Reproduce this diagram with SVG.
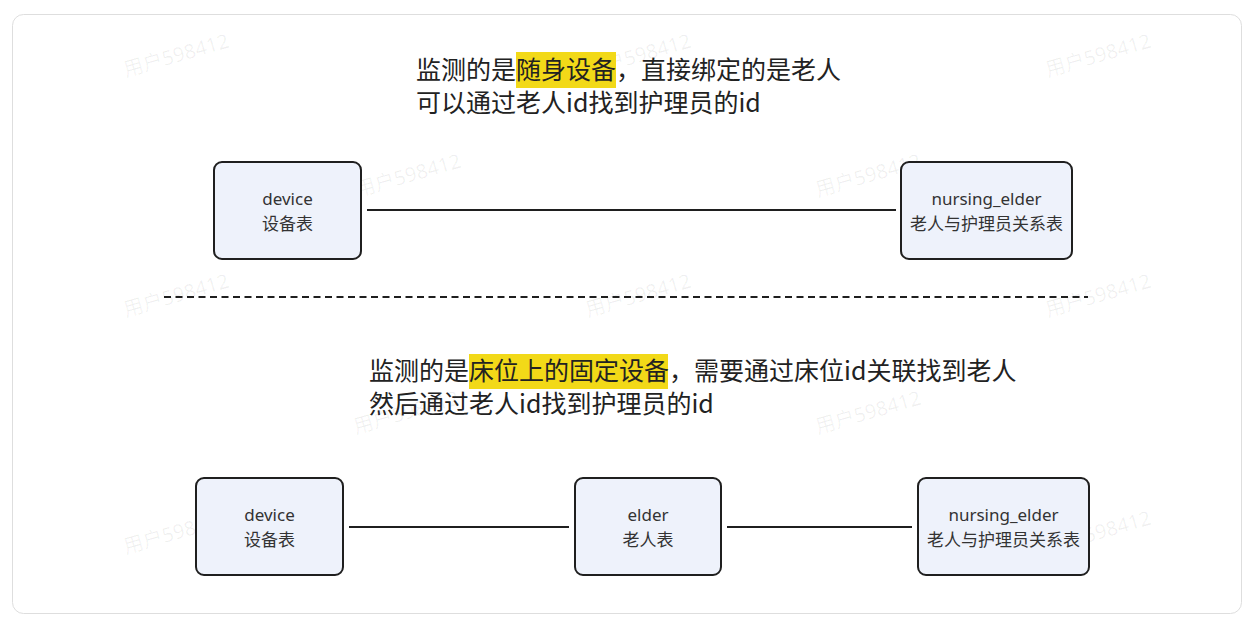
<svg xmlns="http://www.w3.org/2000/svg" width="1253" height="625" viewBox="0 0 1253 625">
<style>
.node rect{fill:#eef2fb;stroke:#1f1f1f;stroke-width:2}
.nt{font-family:"Noto Sans","Noto Sans CJK SC",sans-serif;font-size:17px;fill:#333;text-anchor:middle}
.para{font-family:"Noto Sans CJK SC","Noto Sans",sans-serif;font-size:25px;fill:#222}
.hl{fill:#f2d918}
.wm{font-family:"Noto Sans","Noto Sans CJK SC",sans-serif;font-size:20px;fill:#000;fill-opacity:0.06;text-anchor:middle}
.conn line{stroke:#1f1f1f;stroke-width:2}
</style>
<rect x="0" y="0" width="1253" height="625" fill="#ffffff"/>
<rect x="12.5" y="14.5" width="1229" height="599" rx="11" fill="#ffffff" stroke="#dedede" stroke-width="1"/>

<g id="watermarks">
<text class="wm" transform="translate(178,62) rotate(-16)">用户598412</text>
<text class="wm" transform="translate(640,62) rotate(-16)">用户598412</text>
<text class="wm" transform="translate(1100,62) rotate(-16)">用户598412</text>
<text class="wm" transform="translate(410,182) rotate(-16)">用户598412</text>
<text class="wm" transform="translate(870,182) rotate(-16)">用户598412</text>
<text class="wm" transform="translate(178,302) rotate(-16)">用户598412</text>
<text class="wm" transform="translate(640,302) rotate(-16)">用户598412</text>
<text class="wm" transform="translate(1100,302) rotate(-16)">用户598412</text>
<text class="wm" transform="translate(408,419) rotate(-16)">用户598412</text>
<text class="wm" transform="translate(870,419) rotate(-16)">用户598412</text>
<text class="wm" transform="translate(178,539) rotate(-16)">用户598412</text>
<text class="wm" transform="translate(640,539) rotate(-16)">用户598412</text>
<text class="wm" transform="translate(1100,539) rotate(-16)">用户598412</text>
</g>

<g id="text-top">
<rect class="hl" x="516" y="52" width="100" height="36"/>
<text class="para" x="416" y="79">监测的是随身设备，直接绑定的是老人</text>
<text class="para" x="416" y="112">可以通过老人id找到护理员的id</text>
</g>

<g id="text-bottom">
<rect class="hl" x="469" y="354" width="199" height="35"/>
<text class="para" x="369" y="380">监测的是床位上的固定设备，需要通过床位id关联找到老人</text>
<text class="para" x="369" y="413">然后通过老人id找到护理员的id</text>
</g>

<g id="connectors" class="conn">
<line x1="367" y1="210" x2="896" y2="210"/>
<line x1="349" y1="527" x2="569" y2="527"/>
<line x1="727" y1="527" x2="912" y2="527"/>
<line x1="164" y1="297" x2="1088" y2="297" stroke-dasharray="7 4.5"/>
</g>

<g id="node-device-top" class="node">
<rect x="214" y="162" width="147" height="97" rx="8"/>
<text class="nt" x="287.5" y="205">device</text>
<text class="nt" x="287.5" y="230">设备表</text>
</g>
<g id="node-nursing-top" class="node">
<rect x="901" y="162" width="171" height="97" rx="8"/>
<text class="nt" x="986.5" y="205">nursing_elder</text>
<text class="nt" x="986.5" y="230">老人与护理员关系表</text>
</g>
<g id="node-device-bottom" class="node">
<rect x="196" y="478" width="147" height="97" rx="8"/>
<text class="nt" x="269.5" y="521">device</text>
<text class="nt" x="269.5" y="546">设备表</text>
</g>
<g id="node-elder" class="node">
<rect x="575" y="478" width="146" height="97" rx="8"/>
<text class="nt" x="648" y="521">elder</text>
<text class="nt" x="648" y="546">老人表</text>
</g>
<g id="node-nursing-bottom" class="node">
<rect x="918" y="478" width="171" height="97" rx="8"/>
<text class="nt" x="1003.5" y="521">nursing_elder</text>
<text class="nt" x="1003.5" y="546">老人与护理员关系表</text>
</g>
</svg>
